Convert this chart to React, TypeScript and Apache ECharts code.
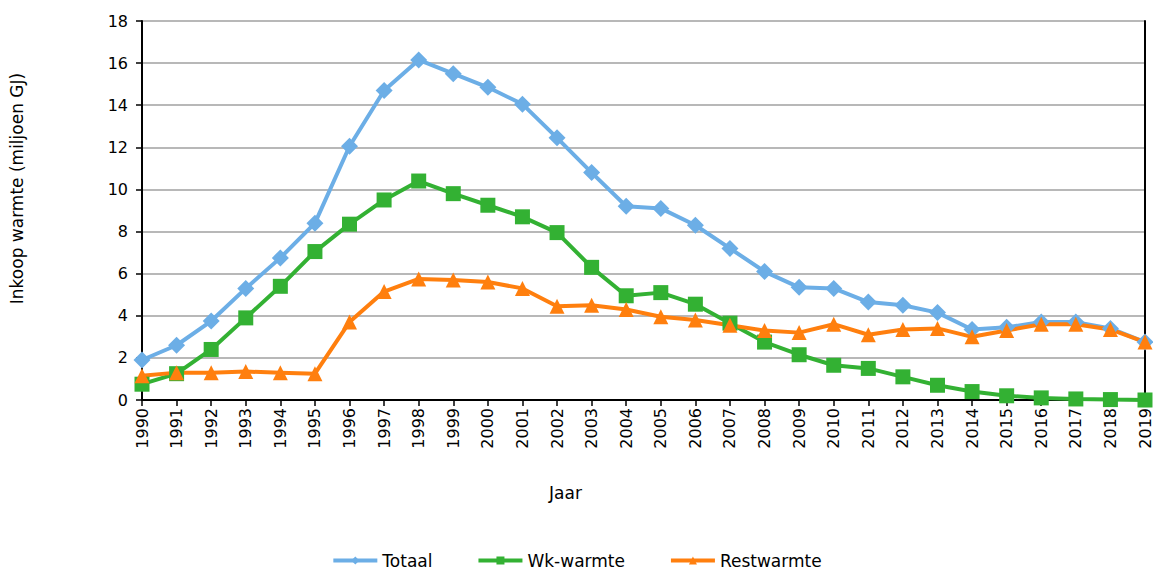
import React, { useEffect, useRef } from "react";
import * as echarts from "echarts";

const years = [
  "1990", "1991", "1992", "1993", "1994", "1995", "1996", "1997", "1998", "1999",
  "2000", "2001", "2002", "2003", "2004", "2005", "2006", "2007", "2008", "2009",
  "2010", "2011", "2012", "2013", "2014", "2015", "2016", "2017", "2018", "2019",
];
const totaal = [
  1.9, 2.6, 3.75, 5.3, 6.75, 8.4, 12.05, 14.7, 16.15, 15.5,
  14.85, 14.05, 12.45, 10.8, 9.2, 9.1, 8.3, 7.2, 6.1, 5.35,
  5.3, 4.65, 4.5, 4.15, 3.35, 3.45, 3.7, 3.7, 3.4, 2.75,
];
const wkWarmte = [
  0.75, 1.25, 2.4, 3.9, 5.4, 7.05, 8.35, 9.5, 10.4, 9.8,
  9.25, 8.7, 7.95, 6.3, 4.95, 5.1, 4.55, 3.65, 2.75, 2.15,
  1.65, 1.5, 1.1, 0.7, 0.4, 0.2, 0.1, 0.05, 0.02, 0.0,
];
const restwarmte = [
  1.15, 1.3, 1.3, 1.35, 1.3, 1.25, 3.7, 5.15, 5.75, 5.7,
  5.6, 5.3, 4.45, 4.5, 4.3, 3.95, 3.8, 3.55, 3.3, 3.2,
  3.6, 3.1, 3.35, 3.4, 3.0, 3.3, 3.6, 3.6, 3.35, 2.75,
];

const FONT = "DejaVu Sans, Verdana, sans-serif";

export default function App() {
  const ref = useRef<HTMLDivElement>(null);
  useEffect(() => {
    if (!ref.current) return;
    const chart = echarts.init(ref.current, null, { renderer: "svg" });
    const mk = (name: string, data: number[], color: string, symbol: string, size: number) => ({
      name,
      type: "line",
      data,
      symbol,
      symbolSize: size,
      showSymbol: true,
      lineStyle: { color, width: 4 },
      itemStyle: { color },
      emphasis: { disabled: true },
    });
    chart.setOption({
      animation: false,
      textStyle: { fontFamily: FONT },
      grid: { left: 140, right: 7, top: 21, bottom: 172, containLabel: false },
      legend: {
        bottom: -2,
        left: "center",
        itemWidth: 44,
        itemHeight: 10,
        itemGap: 44,
        lineStyle: { width: 4 },
        textStyle: { fontFamily: FONT, fontSize: 17, color: "#000" },
        data: ["Totaal", "Wk-warmte", "Restwarmte"],
      },
      xAxis: {
        type: "category",
        data: years,
        boundaryGap: false,
        name: "Jaar",
        nameLocation: "middle",
        nameGap: 84,
        nameTextStyle: { fontFamily: FONT, fontSize: 17, color: "#000", padding: [0, 156, 0, 0] },
        axisLine: { lineStyle: { color: "#000", width: 2 } },
        axisTick: { show: true, length: 6, lineStyle: { color: "#000", width: 1.5 } },
        axisLabel: { rotate: 90, fontFamily: FONT, fontSize: 16, color: "#000", margin: 8 },
        splitLine: { show: false },
      },
      yAxis: [
        {
          type: "value",
          min: 0,
          max: 18,
          interval: 2,
          name: "Inkoop warmte (miljoen GJ)",
          nameLocation: "middle",
          nameGap: 117,
          nameTextStyle: { fontFamily: FONT, fontSize: 17, color: "#000", padding: [0, 0, 0, 44] },
          axisLine: { show: true, lineStyle: { color: "#000", width: 2 } },
          axisTick: { show: true, length: 6, lineStyle: { color: "#000", width: 1.5 } },
          axisLabel: { fontFamily: FONT, fontSize: 16, color: "#000", margin: 14 },
          splitLine: { show: true, lineStyle: { color: "#a0a0a0", width: 1.5 } },
        },
        {
          type: "value",
          min: 0,
          max: 18,
          interval: 2,
          position: "right",
          axisLine: { show: true, lineStyle: { color: "#000", width: 2 } },
          axisTick: { show: false },
          axisLabel: { show: false },
          splitLine: { show: false },
        },
      ],
      series: [
        mk("Totaal", totaal, "#6caee6", "diamond", 17),
        mk("Wk-warmte", wkWarmte, "#33b133", "rect", 15),
        mk("Restwarmte", restwarmte, "#ff7f0e", "triangle", 15),
      ],
    });
    return () => chart.dispose();
  }, []);
  return <div ref={ref} style={{ width: 1153, height: 572, position: "absolute", left: 0, top: 0 }} />;
}
